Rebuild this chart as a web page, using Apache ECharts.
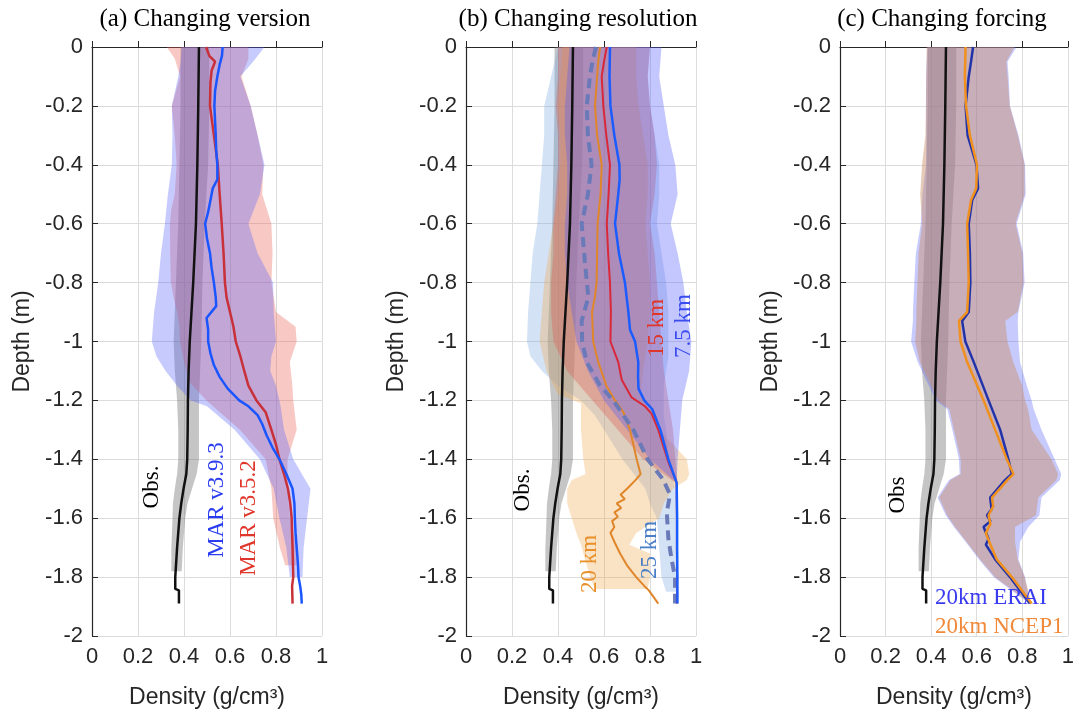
<!DOCTYPE html>
<html lang="en">
<head>
    <meta charset="UTF-8">
    <title>Density profiles</title>
    <script src="https://cdn.jsdelivr.net/npm/echarts@6/dist/echarts.min.js"></script>
    <style>
        html, body { margin: 0; padding: 0; background: #fff; }
        #chart { width: 1077px; height: 719px; }
    </style>
</head>
<body>
<div id="chart"></div>
<script type="text/javascript">
    // ---- observations (same in all three panels) ----
    var obsDepth = [0, -0.2, -0.4, -0.6, -0.8, -1.0, -1.1, -1.2, -1.3, -1.4, -1.45, -1.5, -1.55, -1.6, -1.7, -1.8, -1.84, -1.845, -1.89];
    var obsX     = [0.465, 0.462, 0.458, 0.452, 0.44, 0.425, 0.42, 0.417, 0.416, 0.414, 0.41, 0.398, 0.388, 0.38, 0.37, 0.362, 0.362, 0.378, 0.378];
    var obsBandDepth = [0, -0.2, -0.4, -0.6, -0.8, -1.0, -1.1, -1.2, -1.3, -1.4, -1.45, -1.5, -1.55, -1.6, -1.7, -1.78];
    var obsLo = [0.385, 0.385, 0.38, 0.375, 0.365, 0.355, 0.36, 0.37, 0.375, 0.375, 0.37, 0.36, 0.352, 0.35, 0.345, 0.345];
    var obsHi = [0.51, 0.51, 0.505, 0.49, 0.48, 0.475, 0.47, 0.465, 0.465, 0.465, 0.455, 0.435, 0.415, 0.405, 0.395, 0.39];

    // ---- (a) changing version ----
    var v393Depth = [0, -0.03, -0.06, -0.1, -0.15, -0.2, -0.25, -0.3, -0.35, -0.4, -0.45, -0.48, -0.52, -0.56, -0.6, -0.65, -0.7, -0.75, -0.8, -0.85, -0.88, -0.92, -0.96, -1.0, -1.04, -1.08, -1.12, -1.16, -1.2, -1.22, -1.25, -1.28, -1.32, -1.36, -1.4, -1.45, -1.5, -1.55, -1.6, -1.65, -1.7, -1.75, -1.8, -1.83, -1.86, -1.89];
    var v393X     = [0.568, 0.565, 0.555, 0.545, 0.535, 0.532, 0.535, 0.538, 0.54, 0.545, 0.545, 0.525, 0.515, 0.505, 0.492, 0.5, 0.513, 0.52, 0.53, 0.538, 0.54, 0.498, 0.505, 0.505, 0.515, 0.53, 0.555, 0.59, 0.64, 0.68, 0.72, 0.74, 0.76, 0.785, 0.815, 0.845, 0.872, 0.88, 0.882, 0.885, 0.89, 0.895, 0.898, 0.905, 0.91, 0.912];
    var v352Depth = [0, -0.03, -0.05, -0.08, -0.12, -0.2, -0.3, -0.4, -0.5, -0.6, -0.7, -0.8, -0.85, -0.9, -0.95, -1.0, -1.05, -1.1, -1.15, -1.2, -1.24, -1.3, -1.35, -1.4, -1.45, -1.5, -1.55, -1.6, -1.7, -1.8, -1.83, -1.89];
    var v352X     = [0.496, 0.51, 0.535, 0.52, 0.515, 0.513, 0.53, 0.547, 0.555, 0.564, 0.572, 0.578, 0.585, 0.6, 0.615, 0.625, 0.645, 0.662, 0.68, 0.715, 0.755, 0.78, 0.8, 0.815, 0.835, 0.852, 0.862, 0.868, 0.872, 0.875, 0.87, 0.872];
    var v393BandDepth = [0, -0.05, -0.1, -0.2, -0.3, -0.4, -0.5, -0.6, -0.7, -0.8, -0.9, -1.0, -1.05, -1.1, -1.15, -1.2, -1.22, -1.3, -1.4, -1.5, -1.6, -1.7, -1.8];
    var v393Lo = [0.39, 0.385, 0.375, 0.347, 0.35, 0.347, 0.33, 0.317, 0.3, 0.288, 0.27, 0.26, 0.28, 0.32, 0.37, 0.43, 0.5, 0.62, 0.73, 0.79, 0.815, 0.845, 0.86];
    var v393Hi = [0.75, 0.70, 0.645, 0.69, 0.72, 0.75, 0.73, 0.68, 0.72, 0.787, 0.79, 0.80, 0.78, 0.775, 0.80, 0.815, 0.82, 0.835, 0.875, 0.95, 0.935, 0.92, 0.915];
    var v352BandDepth = [0, -0.04, -0.1, -0.2, -0.3, -0.4, -0.5, -0.55, -0.6, -0.7, -0.8, -0.85, -0.9, -0.95, -1.0, -1.07, -1.14, -1.2, -1.3, -1.4, -1.5, -1.6, -1.7, -1.76];
    var v352Lo = [0.325, 0.36, 0.383, 0.347, 0.36, 0.368, 0.36, 0.345, 0.339, 0.34, 0.343, 0.355, 0.37, 0.38, 0.383, 0.4, 0.426, 0.498, 0.643, 0.755, 0.78, 0.788, 0.817, 0.84];
    var v352Hi = [0.68, 0.68, 0.65, 0.69, 0.72, 0.745, 0.74, 0.76, 0.78, 0.785, 0.78, 0.79, 0.80, 0.885, 0.89, 0.86, 0.87, 0.875, 0.89, 0.85, 0.85, 0.86, 0.89, 0.9];

    // ---- (b) changing resolution ----
    var r75Depth = [0, -0.1, -0.2, -0.3, -0.4, -0.45, -0.5, -0.55, -0.6, -0.7, -0.8, -0.9, -0.96, -1.0, -1.07, -1.12, -1.16, -1.2, -1.23, -1.3, -1.4, -1.48, -1.6, -1.7, -1.8, -1.89];
    var r75X     = [0.626, 0.624, 0.628, 0.645, 0.667, 0.668, 0.662, 0.655, 0.648, 0.665, 0.691, 0.706, 0.713, 0.735, 0.749, 0.748, 0.75, 0.775, 0.81, 0.845, 0.88, 0.916, 0.918, 0.918, 0.919, 0.919];
    var r15Depth = [0, -0.05, -0.1, -0.2, -0.3, -0.4, -0.5, -0.6, -0.7, -0.8, -0.9, -1.0, -1.07, -1.13, -1.19, -1.22, -1.245, -1.3, -1.41, -1.48, -1.6, -1.7, -1.8, -1.89];
    var r15X     = [0.612, 0.6, 0.59, 0.597, 0.61, 0.626, 0.62, 0.612, 0.618, 0.626, 0.63, 0.628, 0.662, 0.677, 0.72, 0.778, 0.807, 0.836, 0.88, 0.916, 0.917, 0.917, 0.918, 0.918];
    var r20Depth = [0, -0.05, -0.1, -0.2, -0.3, -0.4, -0.5, -0.6, -0.7, -0.8, -0.85, -0.9, -1.0, -1.07, -1.15, -1.2, -1.24, -1.3, -1.4, -1.45, -1.47, -1.5, -1.52, -1.535, -1.55, -1.565, -1.58, -1.595, -1.61, -1.63, -1.65, -1.68, -1.72, -1.76, -1.8, -1.83, -1.845, -1.89];
    var r20X     = [0.583, 0.575, 0.57, 0.561, 0.57, 0.59, 0.585, 0.572, 0.57, 0.568, 0.56, 0.548, 0.553, 0.575, 0.61, 0.648, 0.684, 0.713, 0.742, 0.759, 0.738, 0.70, 0.672, 0.69, 0.655, 0.675, 0.645, 0.66, 0.635, 0.645, 0.628, 0.645, 0.67, 0.70, 0.74, 0.775, 0.795, 0.836];
    var r25Depth = [0, -0.05, -0.1, -0.2, -0.3, -0.4, -0.5, -0.6, -0.73, -0.85, -0.93, -1.0, -1.07, -1.15, -1.2, -1.3, -1.4, -1.47, -1.52, -1.58, -1.67, -1.74, -1.8, -1.89];
    var r25X     = [0.565, 0.55, 0.539, 0.525, 0.53, 0.546, 0.53, 0.503, 0.517, 0.532, 0.503, 0.505, 0.525, 0.583, 0.64, 0.728, 0.79, 0.858, 0.887, 0.873, 0.88, 0.894, 0.909, 0.909];

    var r25BandDepth = [0, -0.1, -0.2, -0.3, -0.4, -0.5, -0.6, -0.7, -0.8, -0.9, -1.0, -1.05, -1.1, -1.15, -1.2, -1.25, -1.3, -1.4, -1.5, -1.55, -1.6, -1.7, -1.8, -1.85];
    var r25Lo = [0.40, 0.37, 0.34, 0.34, 0.33, 0.32, 0.31, 0.29, 0.28, 0.27, 0.265, 0.28, 0.33, 0.40, 0.50, 0.56, 0.60, 0.68, 0.78, 0.80, 0.83, 0.84, 0.85, 0.87];
    var r25Hi = [0.80, 0.79, 0.80, 0.82, 0.84, 0.84, 0.83, 0.85, 0.87, 0.88, 0.88, 0.88, 0.87, 0.86, 0.86, 0.86, 0.87, 0.88, 0.91, 0.92, 0.92, 0.92, 0.92, 0.92];
    var r20BandDepth = [0, -0.1, -0.2, -0.3, -0.4, -0.5, -0.6, -0.7, -0.8, -0.9, -1.0, -1.1, -1.18, -1.21, -1.3, -1.4, -1.45, -1.47, -1.5, -1.55, -1.6, -1.65, -1.69, -1.72, -1.8, -1.84];
    var r20Lo = [0.42, 0.41, 0.40, 0.41, 0.41, 0.40, 0.38, 0.36, 0.34, 0.33, 0.32, 0.35, 0.40, 0.50, 0.50, 0.51, 0.52, 0.46, 0.44, 0.44, 0.46, 0.48, 0.50, 0.51, 0.54, 0.56];
    var r20Hi = [0.74, 0.74, 0.75, 0.77, 0.79, 0.79, 0.78, 0.79, 0.80, 0.80, 0.79, 0.77, 0.76, 0.78, 0.84, 0.96, 0.97, 0.96, 0.90, 0.86, 0.84, 0.74, 0.71, 0.80, 0.80, 0.79];
    var r15BandDepth = [0, -0.1, -0.2, -0.3, -0.4, -0.5, -0.6, -0.7, -0.8, -0.9, -1.0, -1.1, -1.2, -1.3, -1.4, -1.48];
    var r15Lo = [0.40, 0.40, 0.39, 0.40, 0.40, 0.39, 0.38, 0.38, 0.37, 0.37, 0.38, 0.44, 0.55, 0.66, 0.77, 0.91];
    var r15Hi = [0.80, 0.79, 0.80, 0.82, 0.83, 0.82, 0.80, 0.82, 0.83, 0.84, 0.85, 0.86, 0.88, 0.90, 0.91, 0.92];
    var r75BandDepth = [0, -0.1, -0.2, -0.3, -0.4, -0.5, -0.6, -0.7, -0.8, -0.9, -1.0, -1.1, -1.2, -1.3, -1.4, -1.48];
    var r75Lo = [0.45, 0.44, 0.43, 0.43, 0.44, 0.44, 0.43, 0.43, 0.44, 0.46, 0.48, 0.53, 0.60, 0.70, 0.80, 0.915];
    var r75Hi = [0.85, 0.84, 0.86, 0.88, 0.91, 0.92, 0.89, 0.92, 0.945, 0.96, 0.98, 0.97, 0.94, 0.93, 0.92, 0.916];

    // ---- (c) changing forcing ----
    var eraDepth = [0, -0.05, -0.1, -0.2, -0.3, -0.4, -0.48, -0.52, -0.6, -0.7, -0.8, -0.9, -0.93, -1.0, -1.07, -1.2, -1.3, -1.4, -1.45, -1.47, -1.53, -1.57, -1.59, -1.61, -1.63, -1.67, -1.69, -1.74, -1.8, -1.89];
    var eraX     = [0.584, 0.575, 0.565, 0.551, 0.56, 0.599, 0.606, 0.58, 0.565, 0.57, 0.572, 0.565, 0.536, 0.55, 0.587, 0.652, 0.703, 0.739, 0.754, 0.725, 0.659, 0.665, 0.645, 0.66, 0.63, 0.652, 0.64, 0.681, 0.746, 0.833];
    var ncepDepth = [0, -0.1, -0.2, -0.3, -0.4, -0.48, -0.52, -0.6, -0.7, -0.8, -0.9, -0.93, -1.0, -1.07, -1.2, -1.3, -1.4, -1.45, -1.47, -1.53, -1.56, -1.59, -1.62, -1.65, -1.68, -1.74, -1.8, -1.89];
    var ncepX     = [0.551, 0.548, 0.553, 0.57, 0.601, 0.598, 0.575, 0.558, 0.562, 0.565, 0.558, 0.522, 0.529, 0.558, 0.63, 0.681, 0.732, 0.761, 0.735, 0.667, 0.672, 0.652, 0.66, 0.64, 0.655, 0.688, 0.754, 0.841];
    var forceBandDepth = [0, -0.05, -0.1, -0.2, -0.3, -0.4, -0.5, -0.6, -0.7, -0.8, -0.9, -0.93, -1.0, -1.07, -1.15, -1.2, -1.23, -1.3, -1.4, -1.45, -1.47, -1.53, -1.59, -1.63, -1.68, -1.74, -1.8, -1.89];
    var eraLo  = [0.384, 0.38, 0.378, 0.377, 0.378, 0.377, 0.362, 0.355, 0.333, 0.326, 0.32, 0.32, 0.312, 0.341, 0.39, 0.42, 0.471, 0.493, 0.522, 0.525, 0.478, 0.428, 0.464, 0.5, 0.551, 0.61, 0.674, 0.83];
    var eraHi  = [0.775, 0.735, 0.74, 0.746, 0.783, 0.812, 0.815, 0.775, 0.804, 0.81, 0.783, 0.78, 0.783, 0.79, 0.82, 0.841, 0.85, 0.884, 0.942, 0.971, 0.965, 0.884, 0.875, 0.826, 0.79, 0.783, 0.812, 0.833];
    var ncepLo = [0.38, 0.38, 0.378, 0.377, 0.375, 0.36, 0.352, 0.36, 0.345, 0.34, 0.335, 0.335, 0.33, 0.35, 0.40, 0.43, 0.48, 0.5, 0.53, 0.53, 0.485, 0.435, 0.47, 0.505, 0.555, 0.615, 0.68, 0.835];
    var ncepHi = [0.765, 0.73, 0.735, 0.745, 0.78, 0.81, 0.81, 0.77, 0.8, 0.805, 0.78, 0.725, 0.735, 0.76, 0.80, 0.812, 0.825, 0.841, 0.928, 0.957, 0.95, 0.87, 0.86, 0.768, 0.768, 0.78, 0.81, 0.84];

    // grid boxes (pixels)
    var gridLefts = [92, 466, 840];
    var gridTop = 47, gridW = 230, gridH = 589;

    var sans = '"Liberation Sans", Arial, sans-serif';
    var serif = '"Liberation Serif", "Times New Roman", serif';

    function pts(xs, ds) {
        var out = [];
        for (var i = 0; i < ds.length; i++) out.push([xs[i], ds[i]]);
        return out;
    }

    // shaded min/max envelope, drawn through the axes' coord()
    function band(idx, ds, lo, hi, fill) {
        return {
            type: 'custom', xAxisIndex: idx, yAxisIndex: idx, silent: true,
            data: [[0.5, -1]],
            renderItem: function (params, api) {
                var p = [];
                for (var i = 0; i < ds.length; i++) p.push(api.coord([lo[i], ds[i]]));
                for (var j = ds.length - 1; j >= 0; j--) p.push(api.coord([hi[j], ds[j]]));
                return { type: 'polygon', shape: { points: p }, style: { fill: fill } };
            }
        };
    }

    function line(idx, xs, ds, color, width, dashed) {
        return {
            type: 'line', xAxisIndex: idx, yAxisIndex: idx, silent: true,
            data: pts(xs, ds), showSymbol: false, symbol: 'none',
            lineStyle: { color: color, width: width, type: dashed ? [10, 6] : 'solid' }
        };
    }

    var tickFmt = function (v) { return String(Math.round(v * 10) / 10); };

    var grids = [], xAxes = [], yAxes = [];
    for (var g = 0; g < 3; g++) {
        grids.push({ left: gridLefts[g], top: gridTop, width: gridW, height: gridH });
        xAxes.push({
            gridIndex: g, type: 'value', min: 0, max: 1, interval: 0.2,
            name: 'Density (g/cm³)', nameLocation: 'middle', nameGap: 50,
            nameTextStyle: { fontFamily: sans, fontSize: 23, color: '#262626' },
            axisLine: { show: true, lineStyle: { color: '#262626', width: 1.2 } },
            axisTick: { show: true, inside: true, length: 6, lineStyle: { color: '#262626' } },
            axisLabel: { fontFamily: sans, fontSize: 22, color: '#262626', margin: 10, formatter: tickFmt },
            splitLine: { show: true, lineStyle: { color: '#dcdcdc', width: 1 } }
        });
        yAxes.push({
            gridIndex: g, type: 'value', min: -2, max: 0, interval: 0.2,
            name: 'Depth (m)', nameLocation: 'middle', nameGap: 58,
            nameTextStyle: { fontFamily: sans, fontSize: 23, color: '#262626' },
            axisLine: { show: true, lineStyle: { color: '#262626', width: 1.2 } },
            axisTick: { show: true, inside: true, length: 6, lineStyle: { color: '#262626' } },
            axisLabel: { fontFamily: sans, fontSize: 22, color: '#262626', margin: 9, formatter: tickFmt },
            splitLine: { show: true, lineStyle: { color: '#dcdcdc', width: 1 } }
        });
    }

    var grayBand = 'rgba(110,110,110,0.4)';
    var blueBand = 'rgba(85,95,250,0.33)';
    var redBand = 'rgba(235,100,85,0.35)';

    var series = [
        // (a)
        band(0, obsBandDepth, obsLo, obsHi, grayBand),
        line(0, obsX, obsDepth, '#111', 2.5),
        band(0, v352BandDepth, v352Lo, v352Hi, redBand),
        band(0, v393BandDepth, v393Lo, v393Hi, blueBand),
        line(0, v352X, v352Depth, '#c8303a', 2.5),
        line(0, v393X, v393Depth, '#1a55ff', 2.5),
        // (b)
        band(1, obsBandDepth, obsLo, obsHi, grayBand),
        line(1, obsX, obsDepth, '#111', 2.5),
        band(1, r25BandDepth, r25Lo, r25Hi, 'rgba(120,165,225,0.32)'),
        band(1, r20BandDepth, r20Lo, r20Hi, 'rgba(240,165,70,0.32)'),
        band(1, r15BandDepth, r15Lo, r15Hi, 'rgba(220,90,80,0.35)'),
        band(1, r75BandDepth, r75Lo, r75Hi, 'rgba(85,95,250,0.35)'),
        line(1, r20X, r20Depth, '#e0862a', 2),
        line(1, r25X, r25Depth, '#6a7ab8', 4, true),
        line(1, r15X, r15Depth, '#d8283a', 2),
        line(1, r75X, r75Depth, '#1a5cff', 2.5),
        // (c)
        band(2, obsBandDepth, obsLo, obsHi, grayBand),
        line(2, obsX, obsDepth, '#111', 2.5),
        band(2, forceBandDepth, eraLo, eraHi, blueBand),
        band(2, forceBandDepth, ncepLo, ncepHi, 'rgba(200,140,100,0.45)'),
        line(2, eraX, eraDepth, '#2233aa', 2.5),
        line(2, ncepX, ncepDepth, '#f0901e', 2.5)
    ];

    function txt(text, x, y, color, rot, align, size) {
        return {
            type: 'text', x: x, y: y, rotation: rot || 0, z: 100,
            style: { text: text, fill: color, font: (size || 23) + 'px ' + serif,
                align: align || 'center', verticalAlign: 'middle' }
        };
    }
    var up = Math.PI / 2;
    var graphics = [
        txt('(a) Changing version', 205, 19, '#000', 0, 'center', 25),
        txt('(b) Changing resolution', 578, 19, '#000', 0, 'center', 25),
        txt('(c) Changing forcing', 942, 19, '#000', 0, 'center', 25),
        txt('Obs.', 152, 487, '#000', up),
        txt('MAR v3.9.3', 217, 500, '#2a3cf0', up),
        txt('MAR v3.5.2', 249, 518, '#e0352a', up),
        txt('Obs.', 523, 490, '#000', up),
        txt('15 km', 657, 328, '#e0352a', up),
        txt('7.5 km', 684, 326, '#3a4cf0', up),
        txt('20 km', 590, 564, '#e8902a', up),
        txt('25 km', 650, 550, '#4a7fc8', up),
        txt('Obs', 898, 495, '#000', up),
        txt('20km ERAI', 935, 598, '#3a3af0', 0, 'left'),
        txt('20km NCEP1', 935, 627, '#f08a3a', 0, 'left')
    ];

    var myChart = echarts.init(document.getElementById('chart'), null, { renderer: 'canvas' });
    myChart.setOption({
        animation: false,
        backgroundColor: '#fff',
        grid: grids,
        xAxis: xAxes,
        yAxis: yAxes,
        series: series,
        graphic: graphics
    });
</script>
</body>
</html>
